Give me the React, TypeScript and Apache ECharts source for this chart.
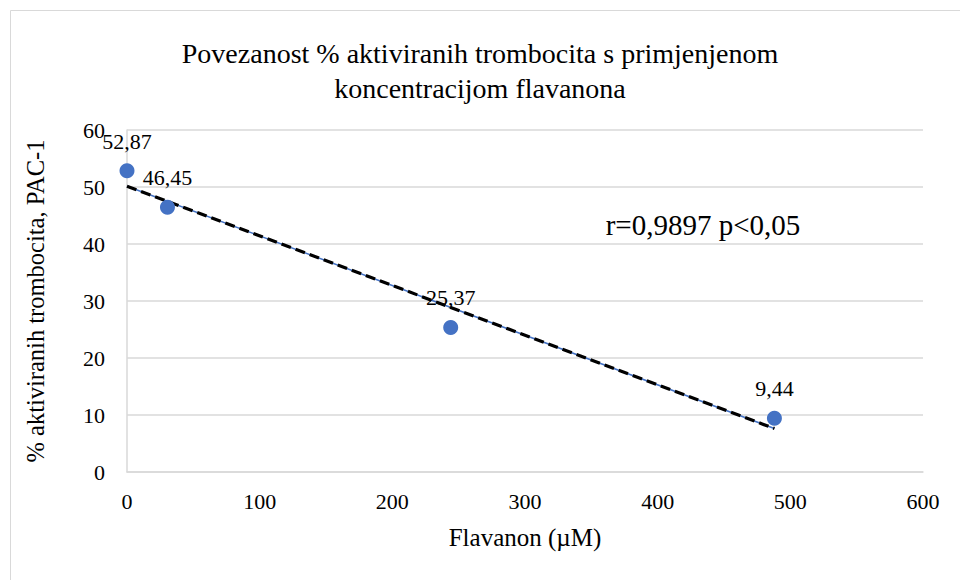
import React, { useEffect, useRef } from "react";
import * as echarts from "echarts";

const concentrations = [0, 30.5, 244, 488];
const activated = [52.87, 46.45, 25.37, 9.44];
const pointLabels = ["52,87", "46,45", "25,37", "9,44"];
const xTicks = [0, 100, 200, 300, 400, 500, 600];
const yTicks = [0, 10, 20, 30, 40, 50, 60];

const titleText = "Povezanost % aktiviranih trombocita s primjenjenom\nkoncentracijom flavanona";
const xName = "Flavanon (µM)";
const yName = "% aktiviranih trombocita, PAC-1";
const annotation = "r=0,9897 p<0,05";

function linearFit(xs: number[], ys: number[]) {
  const n = xs.length;
  const mx = xs.reduce((a, b) => a + b, 0) / n;
  const my = ys.reduce((a, b) => a + b, 0) / n;
  let sxy = 0, sxx = 0;
  for (let i = 0; i < n; i++) {
    sxy += (xs[i] - mx) * (ys[i] - my);
    sxx += (xs[i] - mx) * (xs[i] - mx);
  }
  const slope = sxy / sxx;
  return { slope, intercept: my - slope * mx };
}

const FONT = "Liberation Serif";
const BLUE = "#4472C4";
const GRID = "#d9d9d9";

export default function App() {
  const ref = useRef<HTMLDivElement>(null);
  useEffect(() => {
    if (!ref.current) return;
    const chart = echarts.init(ref.current, undefined, { renderer: "svg" });
    const fit = linearFit(concentrations, activated);
    const x0 = concentrations[0];
    const x1 = concentrations[concentrations.length - 1];
    const trend = [
      [x0, fit.intercept + fit.slope * x0],
      [x1, fit.intercept + fit.slope * x1],
    ];
    chart.setOption({
      animation: false,
      backgroundColor: "#ffffff",
      textStyle: { fontFamily: FONT },
      title: {
        text: titleText,
        left: 475,
        textAlign: "center",
        top: 31,
        textStyle: { fontFamily: FONT, fontSize: 28, fontWeight: "normal", color: "#000", lineHeight: 35 },
      },
      grid: { left: 127, right: 37, top: 130, bottom: 108 },
      xAxis: {
        type: "value",
        min: xTicks[0],
        max: xTicks[xTicks.length - 1],
        interval: xTicks[1] - xTicks[0],
        name: xName,
        nameLocation: "middle",
        nameGap: 53,
        nameTextStyle: { fontFamily: FONT, fontSize: 25, color: "#000" },
        axisLine: { show: true, lineStyle: { color: GRID, width: 1.5 } },
        axisTick: { show: false },
        splitLine: { show: false },
        axisLabel: { fontFamily: FONT, fontSize: 22, color: "#000", margin: 18 },
      },
      yAxis: {
        type: "value",
        min: yTicks[0],
        max: yTicks[yTicks.length - 1],
        interval: yTicks[1] - yTicks[0],
        name: yName,
        nameLocation: "middle",
        nameGap: 79,
        nameTextStyle: { fontFamily: FONT, fontSize: 24.5, color: "#000" },
        axisLine: { show: true, lineStyle: { color: GRID, width: 1.5 } },
        axisTick: { show: false },
        splitLine: { show: true, lineStyle: { color: GRID, width: 1.5 } },
        axisLabel: { fontFamily: FONT, fontSize: 22, color: "#000", margin: 22 },
      },
      series: [
        {
          type: "line",
          data: trend,
          symbol: "none",
          lineStyle: { color: BLUE, width: 1.5, type: "solid" },
          z: 2,
          silent: true,
        },
        {
          type: "line",
          data: trend,
          symbol: "none",
          lineStyle: { color: "#000", width: 3.2, type: [10, 5] },
          z: 3,
          silent: true,
        },
        {
          type: "scatter",
          data: concentrations.map((x, i) => [x, activated[i]]),
          symbol: "circle",
          symbolSize: 15,
          itemStyle: { color: BLUE, opacity: 1 },
          z: 4,
          label: {
            show: true,
            position: "top",
            distance: 11,
            fontFamily: FONT,
            fontSize: 22,
            color: "#000",
            formatter: (p: any) => pointLabels[p.dataIndex],
          },
        },
      ],
      graphic: [
        {
          type: "rect",
          shape: { x: 10.5, y: 10.5, width: 980, height: 600 },
          style: { fill: "none", stroke: GRID, lineWidth: 1 },
          silent: true,
        },
        {
          type: "text",
          x: 703,
          y: 225,
          style: {
            text: annotation,
            fontFamily: FONT,
            fontSize: 29,
            fill: "#000",
            textAlign: "center",
            textVerticalAlign: "middle",
          },
        },
      ],
    });
    return () => chart.dispose();
  }, []);
  return (
    <div
      ref={ref}
      style={{ position: "absolute", left: 0, top: 0, width: 960, height: 580 }}
    />
  );
}
